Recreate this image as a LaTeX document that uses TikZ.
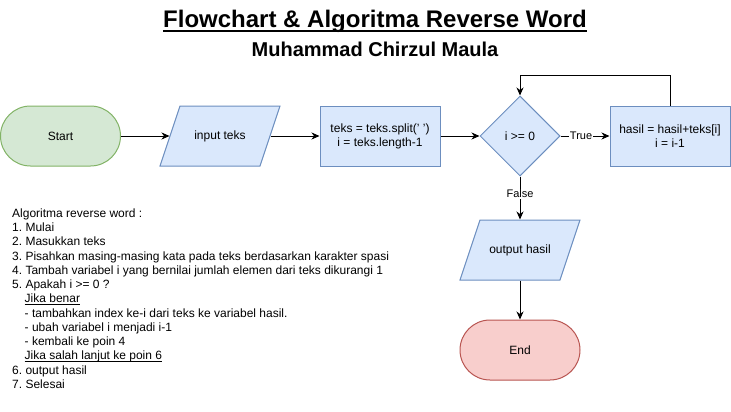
\documentclass[tikz,border=0pt]{standalone}
\usepackage{fontspec}
\setmainfont{Liberation Sans}
\usetikzlibrary{shapes.geometric,arrows.meta}
\definecolor{gfill}{HTML}{D5E8D4}
\definecolor{gline}{HTML}{82B366}
\definecolor{bfill}{HTML}{DAE8FC}
\definecolor{bline}{HTML}{6C8EBF}
\definecolor{rfill}{HTML}{F8CECC}
\definecolor{rline}{HTML}{B85450}
\newcommand\myul[3]{\setbox0\hbox{#3}\rlap{\rule[#1]{\wd0}{#2}}\box0}
\frenchspacing
\begin{document}
\begin{tikzpicture}[x=1pt,y=-1pt,
  font=\fontsize{12}{14}\selectfont,
  base/.style={line width=1pt, inner sep=0pt, align=center},
  term/.style={base, rectangle, rounded corners=30pt, minimum width=120pt, minimum height=60pt},
  proc/.style={base, rectangle, draw=bline, fill=bfill, minimum width=120pt, minimum height=60pt},
  io/.style={base, rectangle, minimum width=120pt, minimum height=60pt},
  iodraw/.style={line width=1pt, draw=bline, fill=bfill},
  decision/.style={base, diamond, aspect=1, draw=bline, fill=bfill, minimum width=80pt, minimum height=80pt},
  arr/.style={-{Stealth[length=8pt,width=7pt,inset=2.5pt]}, line width=1pt},
  lbl/.style={fill=white, font=\fontsize{11}{13}\selectfont, inner sep=1pt}]
\useasboundingbox (0,0) rectangle (731,412);
% titles
\node[anchor=base] (title) at (375,28) {\fontsize{24}{28}\selectfont\bfseries\myul{-4pt}{1.8pt}{Flowchart \& Algoritma Reverse Word}};
\node[anchor=base] (author) at (375,57) {\fontsize{20}{24}\selectfont\bfseries Muhammad Chirzul Maula};
% flowchart
\node[term, draw=gline, fill=gfill] (start) at (60.5,136) {Start};
\path[iodraw] (160,166) -- (260,166) -- (280,106) -- (180,106) -- cycle;
\node[io] (input) at (220,136) {input teks};
\node[proc] (split) at (380,136) {teks = teks.split(' ')\\ i = teks.length-1};
\node[decision] (cond) at (520,136) {i >= 0};
\node[proc] (hasil) at (670,136) {hasil = hasil+teks[i]\\ i = i-1};
\path[iodraw] (460,280) -- (560,280) -- (580,220) -- (480,220) -- cycle;
\node[io] (output) at (520,250) {output hasil};
\node[term, draw=rline, fill=rfill] (end) at (520,350) {End};
\draw[arr] (start) -- ([xshift=10pt]input.west);
\draw[arr] ([xshift=-10pt]input.east) -- (split);
\draw[arr] (split) -- (cond);
\draw[arr] (cond) -- node[lbl, pos=0.42] (truelbl) {True} (hasil);
\draw[arr] (hasil.north) -- ++(0,-30) -| (cond.north);
\draw[arr] (cond) -- node[lbl, pos=0.4] (falselbl) {False} (output);
\draw[arr] (output) -- (end);
% algorithm text
\foreach \ind/\txt [count=\k from 0] in {
  12/{Algoritma reverse word :},
  12/{1. Mulai},
  12/{2. Masukkan teks},
  12/{3. Pisahkan masing-masing kata pada teks berdasarkan karakter spasi},
  12/{4. Tambah variabel i yang bernilai jumlah elemen dari teks dikurangi 1},
  12/{5. Apakah i >= 0 ?},
  24.5/{\myul{-2pt}{0.8pt}{Jika benar}},
  24.5/{- tambahkan index ke-i dari teks ke variabel hasil.},
  24.5/{- ubah variabel i menjadi i-1},
  24.5/{- kembali ke poin 4},
  24.5/{\myul{-2pt}{0.8pt}{Jika salah lanjut ke poin 6}},
  12/{6. output hasil},
  12/{7. Selesai}}
  \node[anchor=base west, inner sep=0pt] (alg\k) at (\ind, 217.3+\k*14.25) {\txt};
\end{tikzpicture}
\end{document}
